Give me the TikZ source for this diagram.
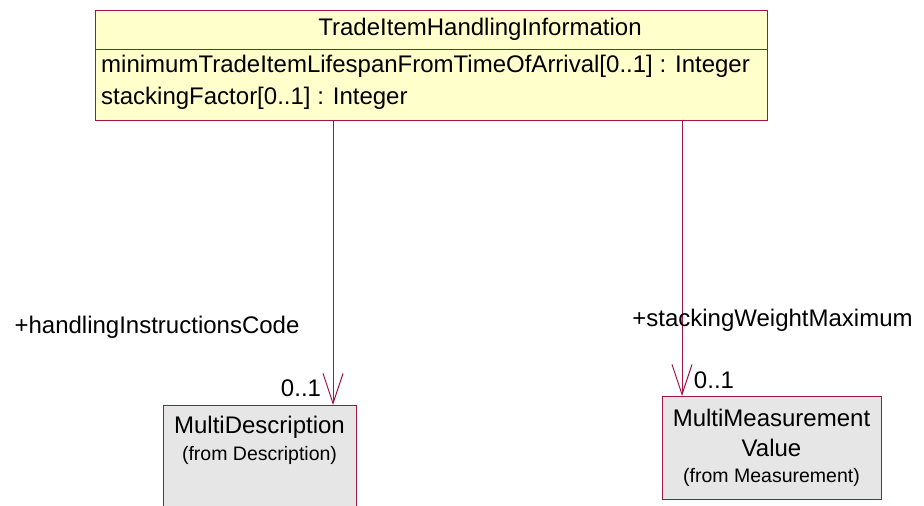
\documentclass[tikz,border=0pt]{standalone}
\usepackage{fontspec}
\setmainfont{Liberation Sans}
\usetikzlibrary{arrows.meta}
\definecolor{umlred}{RGB}{160,20,70}
\definecolor{classyellow}{RGB}{255,255,204}
\definecolor{classgray}{RGB}{230,230,230}

\begin{document}
\begin{tikzpicture}[x=1pt,y=-1pt,>={Straight Barb[length=30pt,width=20pt]},
  class/.style={draw=umlred,line width=1pt,anchor=north west,inner sep=0pt},
  big/.style={font=\fontsize{24}{28}\selectfont,inner sep=0pt},
  small/.style={font=\fontsize{19.5}{22}\selectfont,inner sep=0pt},
  assoc/.style={->,draw=umlred,line width=1pt}]
\clip (0,0) rectangle (924,506);
\fill[white] (0,0) rectangle (924,506);
\node[class,fill=classyellow,minimum width=672pt,minimum height=110pt] (THI) at (95,10) {};
\coordinate (div) at (0,49);
\draw[umlred,line width=1pt] (THI.west |- div) -- (THI.east |- div);
\node[big] (thiname) at (480,29) {TradeItemHandlingInformation};
\node[big,anchor=west] (attr1) at (101,66) {minimumTradeItemLifespanFromTimeOfArrival[0..1] : Integer};
\node[big,anchor=west] (attr2) at (101,98) {stackingFactor[0..1] : Integer};

\node[class,fill=classgray,minimum width=193pt,minimum height=110pt] (MD) at (163,405) {};
\node[big] (mdname) at (259.5,427) {MultiDescription};
\node[small] (mdfrom) at (259.5,455) {(from Description)};

\node[class,fill=classgray,minimum width=219pt,minimum height=103pt] (MM) at (662,396) {};
\node[big] (mmname) at (771.5,418) {MultiMeasurement};
\node[big] (mmname2) at (771.5,448) {Value};
\node[small] (mmfrom) at (771.5,477) {(from Measurement)};

\coordinate (xl) at (333,0);
\coordinate (xr) at (682,0);
\draw[assoc] (THI.south -| xl) -- (MD.north -| xl);
\draw[assoc] (THI.south -| xr) -- (MM.north -| xr);

\node[big] (hic) at (157,327) {+handlingInstructionsCode};
\node[big] (hicm) at (301,388) {0..1};
\node[big] (swm) at (772.5,320) {+stackingWeightMaximum};
\node[big] (swmm) at (714,380) {0..1};
\end{tikzpicture}
\end{document}
